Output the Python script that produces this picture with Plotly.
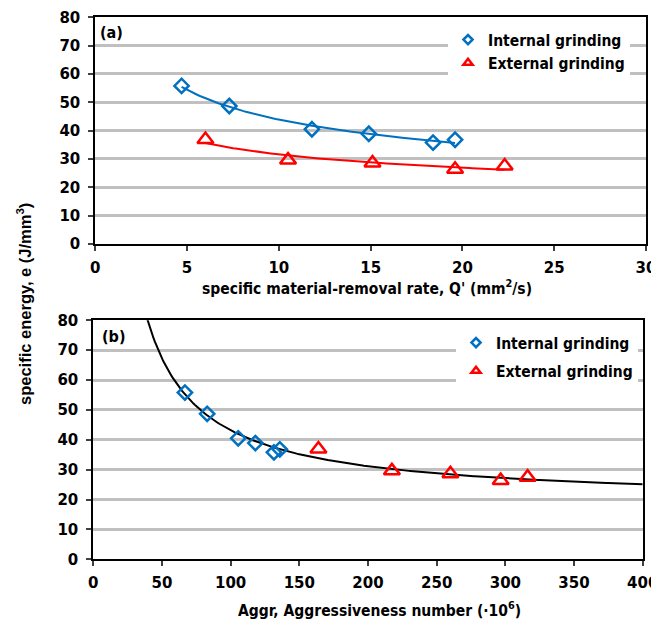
import numpy as np
import plotly.graph_objects as go

# ---- data ----
q_internal = [4.7, 7.3, 11.8, 14.9, 18.4, 19.6]
e_internal = [55.8, 48.7, 40.5, 38.9, 35.8, 36.8]
q_external = [6.0, 10.5, 15.1, 19.6, 22.3]
e_external = [36.9, 29.6, 28.6, 26.4, 27.5]

aggr_internal = [66.7, 82.9, 105.5, 118.0, 131.5, 135.8]
aggr_external = [163.9, 217.4, 260.0, 296.6, 316.2]

x_ticks_top = [0, 5, 10, 15, 20, 25, 30]
x_ticks_bot = [0, 50, 100, 150, 200, 250, 300, 350, 400]
y_ticks = [0, 10, 20, 30, 40, 50, 60, 70, 80]

BLUE = "#0070C0"
RED = "#FF0000"
OFF = 8                     # page body margin of the browser
W, H = 659 - OFF, 619 - OFF
TICKFONT = dict(family="DejaVu Sans", size=15, color="#000000", weight="bold")
CONDFONT = "DejaVu Sans Condensed, Liberation Sans Narrow, DejaVu Sans"


def power_fit(x, y):
    b, a = np.polyfit(np.log(x), np.log(y), 1)
    return lambda t: np.exp(a) * np.power(t, b)


def hyper_fit(x, y):
    k, c = np.polyfit(1.0 / np.asarray(x), y, 1)
    return lambda t: c + k / t


DIAM = dict(symbol="diamond-open", size=11, color=BLUE, line=dict(width=2.5, color=BLUE))
TRI = dict(symbol="triangle-up-open", size=14, color=RED, line=dict(width=2.5, color=RED))
DIAM_L = dict(symbol="diamond-open", size=7, color=BLUE, line=dict(width=2.5, color=BLUE))
TRI_L = dict(symbol="triangle-up-open", size=8, color=RED, line=dict(width=2.5, color=RED))

fig = go.Figure()

# ---- panel (a) ----
fi = power_fit(q_internal, e_internal)
tx = np.linspace(min(q_internal), max(q_internal), 120)
fig.add_trace(go.Scatter(x=tx, y=fi(tx), mode="lines", line=dict(color=BLUE, width=2),
                         showlegend=False, xaxis="x", yaxis="y", hoverinfo="skip"))
fe = power_fit(q_external, e_external)
tx = np.linspace(min(q_external), max(q_external), 120)
fig.add_trace(go.Scatter(x=tx, y=fe(tx), mode="lines", line=dict(color=RED, width=2),
                         showlegend=False, xaxis="x", yaxis="y", hoverinfo="skip"))
fig.add_trace(go.Scatter(x=q_internal, y=e_internal, mode="markers", showlegend=False,
                         marker=DIAM, xaxis="x", yaxis="y"))
fig.add_trace(go.Scatter(x=q_external, y=e_external, mode="markers", showlegend=False,
                         marker=TRI, xaxis="x", yaxis="y"))
fig.add_trace(go.Scatter(x=[None], y=[None], mode="markers", name="Internal grinding", legend="legend",
                         marker=DIAM_L, xaxis="x", yaxis="y"))
fig.add_trace(go.Scatter(x=[None], y=[None], mode="markers", name="External grinding", legend="legend",
                         marker=TRI_L, xaxis="x", yaxis="y"))

# ---- panel (b) ----
all_aggr = aggr_internal + aggr_external
all_e = e_internal + e_external
fb = hyper_fit(all_aggr, all_e)
tb = np.linspace(25, 400, 400)
fig.add_trace(go.Scatter(x=tb, y=fb(tb), mode="lines", line=dict(color="#000000", width=2),
                         showlegend=False, xaxis="x2", yaxis="y2", hoverinfo="skip"))
fig.add_trace(go.Scatter(x=aggr_internal, y=e_internal, mode="markers", showlegend=False,
                         marker=DIAM, xaxis="x2", yaxis="y2"))
fig.add_trace(go.Scatter(x=aggr_external, y=e_external, mode="markers", showlegend=False,
                         marker=TRI, xaxis="x2", yaxis="y2"))
fig.add_trace(go.Scatter(x=[None], y=[None], mode="markers", name="Internal grinding", legend="legend2",
                         legendgroup="int", marker=DIAM_L, xaxis="x2", yaxis="y2"))
fig.add_trace(go.Scatter(x=[None], y=[None], mode="markers", name="External grinding", legend="legend2",
                         legendgroup="ext", marker=TRI_L, xaxis="x2", yaxis="y2"))


def px(v):
    return (v - OFF) / W


def py(v):
    return 1 - (v - OFF) / H


axis_common = dict(showline=True, linewidth=2, linecolor="#000000", mirror=True,
                   ticks="outside", ticklen=5, tickwidth=1.5, tickcolor="#404040",
                   tickfont=TICKFONT, zeroline=False, automargin=False)

fig.update_layout(
    width=W, height=H,
    margin=dict(l=0, r=0, t=0, b=0),
    paper_bgcolor="white", plot_bgcolor="white",
    xaxis=dict(domain=[px(95.3), px(646)], range=[0, 30], tickvals=x_ticks_top, showgrid=False,
               anchor="y", ticklabelstandoff=4, **axis_common),
    yaxis=dict(domain=[py(244), py(17.3)], range=[0, 80], tickvals=y_ticks, showgrid=True,
               gridcolor="#c0c0c0", gridwidth=2.5, anchor="x", ticklabelstandoff=5, **axis_common),
    xaxis2=dict(domain=[px(93.3), px(642.7)], range=[0, 400], tickvals=x_ticks_bot, showgrid=False,
                anchor="y2", ticklabelstandoff=4, **axis_common),
    yaxis2=dict(domain=[py(559.3), py(320.3)], range=[0, 80], tickvals=y_ticks, showgrid=True,
                gridcolor="#c0c0c0", gridwidth=2.5, anchor="x2", ticklabelstandoff=5, **axis_common),
    legend=dict(x=px(448), y=py(23), xanchor="left", yanchor="top", bgcolor="white",
                borderwidth=0, itemwidth=30, tracegroupgap=0,
                font=dict(family=CONDFONT, size=15.5, color="#000000", weight="bold")),
    legend2=dict(x=px(456), y=py(326), xanchor="left", yanchor="top", bgcolor="white",
                 borderwidth=0, itemwidth=30, tracegroupgap=5, traceorder="grouped",
                 font=dict(family=CONDFONT, size=15.5, color="#000000", weight="bold")),
    showlegend=True,
)

ann_font = dict(family=CONDFONT, size=15.5, color="#000000", weight="bold")
fig.add_annotation(text="specific material-removal rate, Q' (mm<sup>2</sup>/s)", xref="paper", yref="paper",
                   x=px(367), y=py(287), xanchor="center", yanchor="middle", showarrow=False, font=ann_font)
fig.add_annotation(text="Aggr, Aggressiveness number (·10<sup>6</sup>)", xref="paper", yref="paper",
                   x=px(379), y=py(609), xanchor="center", yanchor="middle", showarrow=False, font=ann_font)
fig.add_annotation(text="specific energy, e (J/mm<sup>3</sup>)", xref="paper", yref="paper",
                   x=px(24), y=py(304), xanchor="center", yanchor="middle", textangle=-90, showarrow=False,
                   font=dict(family="Liberation Sans, Arial, DejaVu Sans", size=16.5, color="#000000",
                             weight="bold"))
fig.add_annotation(text="(a)", xref="paper", yref="paper", x=px(98), y=py(32), xanchor="left",
                   yanchor="middle", showarrow=False, font=dict(family=CONDFONT, size=16, color="#000000",
                                                                 weight="bold"))
fig.add_annotation(text="(b)", xref="paper", yref="paper", x=px(100), y=py(336), xanchor="left",
                   yanchor="middle", showarrow=False, font=dict(family=CONDFONT, size=16, color="#000000",
                                                                 weight="bold"))

fig.write_html("out.html")
